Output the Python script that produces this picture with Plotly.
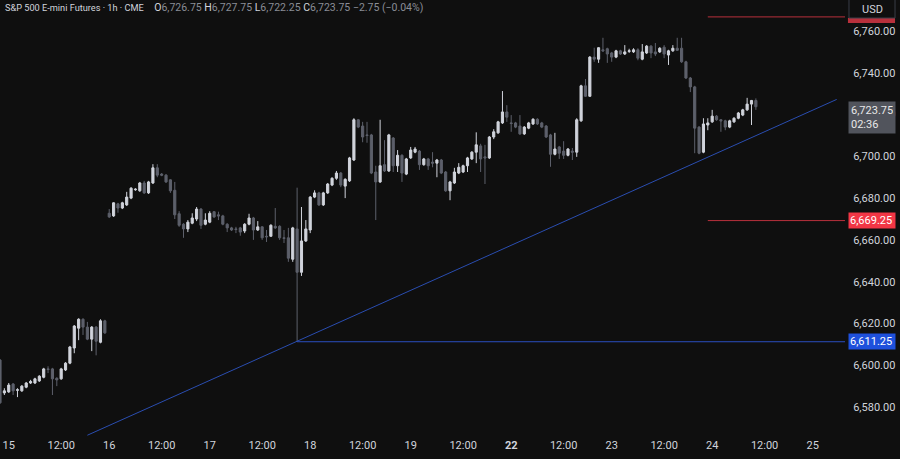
import plotly.graph_objects as go
import pandas as pd

# ─────────────────────────────────────────
# DATA — ES1! hourly bars, Sep 14 22:00 → Sep 24 10:00
# ─────────────────────────────────────────

opens = [
    6602.5, 6586.75, 6587.25, 6591.0, 6588.0, 6587.75, 6589.5, 6591.5, 6591.5, 6592.5, 6594.25, 6598.25, 6598.25,
    6593.75, 6593.5, 6597.75, 6601.0, 6608.25, 6617.75, 6622.0, 6618.25, 6612.5, 6618.25, 6611.0, 6621.25,
    6672.75, 6671.5, 6677.25, 6675.25, 6676.75, 6680.0, 6684.0, 6683.5, 6687.25, 6682.5, 6687.25, 6694.5,
    6691.5, 6691.0, 6688.75, 6683.75, 6672.5, 6667.5, 6665.25, 6668.0, 6670.0, 6674.75, 6667.5,
    6668.5, 6673.5, 6672.0, 6671.5, 6667.5, 6665.75, 6665.25, 6665.75, 6664.25, 6667.5, 6670.5, 6664.75,
    6666.25, 6661.75, 6661.75, 6666.5, 6666.5, 6661.0, 6661.0, 6650.75, 6665.25, 6644.5, 6659.5,
    6664.75, 6680.5, 6682.5, 6676.75, 6682.5, 6686.25, 6689.5, 6692.0, 6685.75, 6688.25, 6698.25, 6717.5,
    6714.5, 6710.25, 6710.25, 6692.5, 6687.75, 6696.0, 6693.0, 6708.75, 6695.5, 6700.5, 6691.5,
    6699.25, 6702.0, 6702.5, 6696.0, 6698.75, 6697.25, 6696.75, 6698.25, 6692.5, 6683.5, 6687.25, 6692.0,
    6692.5, 6695.5, 6698.75, 6702.0, 6705.0, 6699.75, 6699.25, 6709.25, 6711.25, 6716.0, 6721.25,
    6716.0, 6716.0, 6714.5, 6710.75, 6713.5, 6715.5, 6717.75, 6716.0, 6714.5, 6710.25, 6701.0, 6704.5,
    6702.5, 6700.5, 6702.5, 6702.0, 6717.0, 6733.75, 6728.75, 6747.5, 6746.5, 6751.0, 6751.5,
    6749.5, 6747.5, 6750.5, 6749.0, 6750.25, 6750.0, 6751.0, 6746.5, 6749.5, 6752.75, 6750.0, 6750.0,
    6752.25, 6748.5, 6750.5, 6751.75, 6751.75, 6745.25, 6737.5, 6733.25, 6714.0, 6702.0, 6715.0,
    6716.5, 6719.25, 6717.5, 6717.0, 6714.0, 6716.5, 6718.25, 6719.75, 6722.25, 6725.0, 6726.75,
]
highs = [
    6603.0, 6589.0, 6591.5, 6591.5, 6589.0, 6590.5, 6592.0, 6593.0, 6594.0, 6595.25, 6598.75, 6599.5, 6598.75,
    6594.25, 6598.75, 6601.5, 6609.25, 6619.25, 6622.5, 6622.5, 6620.75, 6618.75, 6618.75, 6622.0, 6621.75,
    6674.75, 6678.0, 6677.75, 6678.25, 6683.0, 6685.25, 6684.75, 6687.75, 6688.25, 6688.25, 6696.25, 6696.25,
    6692.0, 6691.5, 6689.0, 6687.75, 6673.75, 6668.0, 6669.5, 6672.75, 6675.75, 6675.25, 6672.75,
    6673.75, 6673.75, 6673.5, 6672.0, 6668.0, 6666.25, 6666.25, 6666.25, 6668.0, 6672.5, 6671.0, 6669.0,
    6666.5, 6664.75, 6667.5, 6675.25, 6667.0, 6664.75, 6665.75, 6666.25, 6685.0, 6675.75, 6669.5,
    6681.0, 6683.75, 6683.0, 6683.0, 6687.25, 6690.0, 6693.0, 6692.5, 6689.5, 6699.75, 6718.25, 6717.75,
    6716.5, 6716.5, 6710.75, 6695.5, 6717.5, 6707.75, 6710.75, 6709.25, 6703.0, 6701.0, 6699.25,
    6704.5, 6704.5, 6703.0, 6699.25, 6699.25, 6702.0, 6698.75, 6698.75, 6693.0, 6688.25, 6694.5, 6696.75,
    6696.0, 6699.75, 6702.5, 6711.5, 6706.0, 6705.5, 6709.75, 6713.0, 6717.0, 6731.25, 6724.5,
    6719.75, 6716.5, 6719.75, 6714.5, 6716.5, 6718.25, 6718.25, 6716.5, 6715.0, 6710.75, 6711.25, 6705.0,
    6707.25, 6704.0, 6704.0, 6718.25, 6734.25, 6737.0, 6748.0, 6752.0, 6752.25, 6756.75, 6752.0,
    6750.0, 6751.0, 6751.0, 6753.25, 6751.5, 6751.75, 6751.75, 6753.75, 6753.25, 6753.25, 6754.25, 6752.25,
    6753.25, 6751.0, 6753.25, 6756.75, 6756.75, 6745.75, 6738.0, 6733.75, 6714.5, 6718.25, 6718.25,
    6722.25, 6719.75, 6717.75, 6717.5, 6717.5, 6718.75, 6721.25, 6722.75, 6728.0, 6727.0, 6727.75,
]
lows = [
    6581.5, 6585.75, 6586.75, 6585.75, 6584.75, 6587.25, 6589.0, 6591.0, 6591.0, 6592.0, 6593.75, 6596.25, 6585.75,
    6590.0, 6593.0, 6597.25, 6600.5, 6605.75, 6612.0, 6614.5, 6612.0, 6606.75, 6604.75, 6610.5, 6615.0,
    6670.5, 6671.0, 6673.0, 6674.75, 6676.25, 6679.5, 6683.5, 6683.0, 6682.0, 6682.0, 6686.75, 6690.0,
    6690.5, 6687.25, 6682.5, 6670.0, 6666.25, 6661.0, 6663.75, 6667.5, 6669.0, 6665.25, 6667.0,
    6668.0, 6670.5, 6669.5, 6667.0, 6663.75, 6664.25, 6663.25, 6662.0, 6663.25, 6667.0, 6660.0, 6664.25,
    6660.0, 6659.0, 6661.5, 6665.25, 6660.0, 6658.5, 6649.5, 6649.5, 6611.25, 6642.75, 6659.0,
    6663.25, 6680.0, 6676.25, 6676.25, 6682.0, 6685.75, 6688.75, 6685.25, 6680.0, 6687.75, 6697.75, 6713.5,
    6706.75, 6706.5, 6691.5, 6669.5, 6687.25, 6692.5, 6692.5, 6692.5, 6692.5, 6687.75, 6691.0,
    6698.75, 6701.5, 6693.5, 6695.5, 6693.5, 6694.75, 6690.0, 6691.5, 6683.0, 6679.0, 6686.75, 6691.5,
    6692.0, 6692.5, 6698.25, 6696.75, 6692.5, 6686.75, 6698.75, 6708.25, 6710.75, 6715.5, 6716.5,
    6711.75, 6713.5, 6710.25, 6710.25, 6713.0, 6715.0, 6715.0, 6713.5, 6708.75, 6695.0, 6700.5, 6698.75,
    6698.75, 6700.0, 6698.25, 6699.75, 6716.5, 6728.5, 6728.5, 6745.25, 6744.75, 6750.0, 6744.75,
    6745.25, 6747.0, 6748.5, 6748.5, 6749.5, 6749.5, 6746.0, 6746.0, 6749.0, 6747.0, 6748.0, 6749.5,
    6747.0, 6743.75, 6750.0, 6750.5, 6744.75, 6737.0, 6730.75, 6701.5, 6701.0, 6701.5, 6712.5,
    6716.0, 6717.0, 6711.75, 6712.5, 6713.5, 6716.0, 6717.75, 6719.25, 6721.75, 6715.0, 6722.25,
]
closes = [
    6582.0, 6587.75, 6590.5, 6587.75, 6588.25, 6590.0, 6591.5, 6592.25, 6593.5, 6594.75, 6598.25, 6598.0, 6593.5,
    6593.0, 6598.25, 6601.0, 6608.75, 6618.75, 6622.0, 6618.25, 6612.5, 6618.25, 6611.5, 6621.25, 6615.5,
    6671.0, 6677.75, 6675.25, 6677.75, 6680.5, 6684.75, 6684.25, 6687.25, 6682.5, 6687.75, 6694.5, 6691.0,
    6691.0, 6687.75, 6683.5, 6672.0, 6667.0, 6665.25, 6668.5, 6670.5, 6674.75, 6667.0, 6669.5,
    6672.75, 6671.0, 6671.5, 6667.5, 6665.75, 6664.75, 6665.0, 6663.75, 6667.5, 6670.5, 6664.75, 6666.25,
    6661.0, 6661.5, 6667.0, 6665.75, 6661.0, 6660.75, 6651.25, 6665.75, 6644.5, 6659.5, 6665.25,
    6680.5, 6682.5, 6676.75, 6682.5, 6686.75, 6689.5, 6692.0, 6686.25, 6689.0, 6699.25, 6717.5, 6714.0,
    6709.25, 6710.0, 6692.0, 6687.75, 6695.5, 6693.0, 6710.25, 6695.5, 6700.5, 6692.0, 6698.75,
    6703.0, 6703.5, 6696.0, 6698.75, 6695.5, 6696.75, 6698.25, 6692.0, 6683.5, 6687.75, 6692.5, 6694.75,
    6695.5, 6699.25, 6702.0, 6705.5, 6698.75, 6699.25, 6709.25, 6711.75, 6716.5, 6721.25, 6718.75,
    6715.75, 6714.0, 6710.75, 6714.0, 6716.0, 6717.75, 6715.5, 6714.0, 6709.25, 6701.0, 6703.5, 6701.5,
    6700.5, 6703.5, 6702.0, 6717.5, 6733.75, 6728.75, 6747.5, 6746.5, 6752.0, 6750.5, 6749.0,
    6747.5, 6750.5, 6749.0, 6750.0, 6750.5, 6751.0, 6747.0, 6750.0, 6752.75, 6749.5, 6749.0, 6751.75,
    6749.0, 6750.5, 6751.75, 6750.75, 6745.25, 6737.5, 6733.25, 6713.5, 6701.5, 6715.5, 6716.0,
    6719.25, 6717.5, 6717.0, 6714.0, 6717.0, 6718.25, 6720.75, 6722.25, 6725.0, 6726.75, 6723.75,
]

# drawn levels / trend line
red_levels    = [6766.75, 6669.25]
red_start     = 162
blue_level    = 6611.25
blue_start    = 68
trend_x       = [20, 191.5]
trend_y       = [6566.5, 6727.25]
y_ticks       = list(range(6580, 6761, 20))

LAST_PRICE   = closes[-1]
CHANGE       = "−2.75 (−0.04%)"
COUNTDOWN    = "02:36"

# ─────────────────────────────────────────
# COLORS
# ─────────────────────────────────────────
BG      = "#0f0f0f"
UP      = "#d1d4dc"
DOWN    = "#5d606b"
TXT     = "#d1d4dc"
RED     = "#f23645"
FONT    = "Roboto"

# ─────────────────────────────────────────
# TIME AXIS — 23 hourly bars per session, weekend removed
# ─────────────────────────────────────────
N_SLOTS = 194
times = []
t = pd.Timestamp("2025-09-14 22:00")
while len(times) < N_SLOTS:
    skip = t.hour == 21 or (t.dayofweek == 4 and t.hour > 21) or t.dayofweek == 5 \
        or (t.dayofweek == 6 and t.hour < 22)
    if not skip:
        times.append(t)
    t += pd.Timedelta(hours=1)

tick_vals, tick_text = [], []
for i, ts in enumerate(times):
    if ts.hour == 0:
        tick_vals.append(i)
        tick_text.append(f"<b>{ts.day}</b>" if ts.dayofweek == 0 and i > 10 else str(ts.day))
    elif ts.hour == 12:
        tick_vals.append(i)
        tick_text.append("12:00")

idx = list(range(len(closes)))

fig = go.Figure()

fig.add_trace(go.Candlestick(
    x=idx, open=opens, high=highs, low=lows, close=closes,
    increasing=dict(line=dict(color=UP, width=1), fillcolor=UP),
    decreasing=dict(line=dict(color=DOWN, width=1), fillcolor=DOWN),
    whiskerwidth=0,
    showlegend=False,
    hoverinfo="skip",
))

# trend line
fig.add_trace(go.Scatter(
    x=trend_x, y=trend_y, mode="lines",
    line=dict(color="#2a4db0", width=1), showlegend=False, hoverinfo="skip",
))

# horizontal levels
for lvl in red_levels:
    fig.add_trace(go.Scatter(
        x=[red_start, 200], y=[lvl, lvl], mode="lines",
        line=dict(color="#b8303c", width=1), showlegend=False, hoverinfo="skip",
    ))
fig.add_trace(go.Scatter(
    x=[blue_start, 200], y=[blue_level, blue_level], mode="lines",
    line=dict(color="#2b4fc0", width=1), showlegend=False, hoverinfo="skip",
))

# ─────────────────────────────────────────
# PRICE LABELS on the right axis
# ─────────────────────────────────────────
def price_tag(y, text, bg):
    fig.add_annotation(
        x=1, xref="paper", y=y, yref="y",
        xanchor="left", yanchor="middle", xshift=3,
        text=text, showarrow=False, align="left",
        font=dict(family=FONT, size=11, color="#ffffff"),
        bgcolor=bg, borderpad=1, width=44,
    )

fig.add_annotation(
    x=1, xref="paper", y=LAST_PRICE, yref="y",
    xanchor="left", yanchor="top", xshift=3, yshift=6,
    text=f"{LAST_PRICE:,.2f}<br>{COUNTDOWN}", showarrow=False, align="left",
    font=dict(family=FONT, size=11, color="#e8e8e8"),
    bgcolor="#51545c", borderpad=2, width=42,
)
price_tag(red_levels[1], f"{red_levels[1]:,.2f}", RED)
price_tag(blue_level, f"{blue_level:,.2f}", "#1e50dc")

# top red tag mostly hidden under the USD box
fig.add_shape(type="rect", xref="paper", yref="paper",
              x0=1.0035, x1=1.0592, y0=1 - 23 / 437, y1=1 - 18 / 437,
              fillcolor="#b8303c", line_width=0, layer="above")
# USD box
fig.add_shape(type="rect", xref="paper", yref="paper",
              x0=1.0047, x1=1.0592, y0=1 - 18 / 437, y1=1.01,
              fillcolor=BG, line=dict(color="#3a3e48", width=1), layer="above")
fig.add_annotation(x=1.032, xref="paper", y=1 - 9 / 437, yref="paper",
                   xanchor="center", yanchor="middle",
                   text="USD", showarrow=False, font=dict(family=FONT, size=11, color=TXT))

# ─────────────────────────────────────────
# HEADER
# ─────────────────────────────────────────
val = "#8a8d96"
gap = "&nbsp;"
ohlc = gap.join(
    f"<span style='color:{TXT}'>{k}</span><span style='color:{val}'>{v:,.2f}</span>"
    for k, v in zip("OHLC", [opens[-1], highs[-1], lows[-1], closes[-1]])
)
header = (
    f"<span style='font-size:9.2px'>S&amp;P 500 E-mini Futures · 1h · CME</span>"
    f"&nbsp;&nbsp;&nbsp;&nbsp;{ohlc}{gap}<span style='color:{val}'>{CHANGE}</span>"
)
fig.add_annotation(
    x=0, xref="paper", y=1, yref="paper", xanchor="left", yanchor="top",
    xshift=3, yshift=1, text=header, showarrow=False,
    font=dict(family=FONT, size=10.5, color=TXT),
)

fig.update_layout(
    width=900, height=459,
    paper_bgcolor=BG, plot_bgcolor=BG,
    margin=dict(l=0, r=55, t=0, b=22),
    xaxis=dict(
        range=[0, 193.4], rangeslider=dict(visible=False),
        showgrid=False, zeroline=False, showline=False,
        tickvals=tick_vals, ticktext=tick_text,
        tickfont=dict(family=FONT, size=11, color=TXT),
        ticks="", ticklen=0,
    ),
    yaxis=dict(
        side="right", range=[6565.65, 6774.84],
        tickvals=y_ticks, tickformat=",.2f",
        showgrid=False, zeroline=False, showline=False,
        tickfont=dict(family=FONT, size=11, color=TXT),
        ticks="outside", ticklen=5, tickcolor="rgba(0,0,0,0)",
    ),
    font=dict(family=FONT),
)

fig.write_html(
    "out.html",
    config={"displayModeBar": False},
    post_script="document.body.style.margin='0';document.body.style.overflow='hidden';",
)
